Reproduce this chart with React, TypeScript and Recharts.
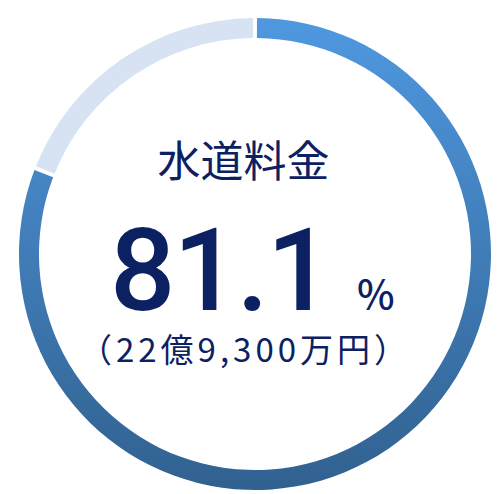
import { PieChart, Pie, Cell } from 'recharts';

const categories = ['水道料金', 'その他'];
const shares = [81.1, 18.9];
const title = '水道料金';
const valueLabel = '81.1';
const unitLabel = '%';
const amountLabel = '（22億9,300万円）';

const data = categories.map((name, i) => ({ name, value: shares[i] }));

const navy = '#0c2162';
const font = '"Noto Sans CJK JP", "Noto Sans", sans-serif';

export default function App() {
  return (
    <div style={{ position: 'absolute', left: 0, top: 0, width: 500, height: 494, background: '#fff' }}>
      <PieChart width={500} height={494}>
        <defs>
          <linearGradient id="ringBlue" x1="0" y1="0" x2="0" y2="1">
            <stop offset="0%" stopColor="#4f98e0" />
            <stop offset="100%" stopColor="#31618f" />
          </linearGradient>
        </defs>
        <Pie
          data={data}
          dataKey="value"
          cx={250}
          cy={249}
          innerRadius={216}
          outerRadius={236}
          startAngle={89.5}
          endAngle={-270.5}
          paddingAngle={1}
          stroke="none"
          isAnimationActive={false}
        >
          <Cell fill="url(#ringBlue)" />
          <Cell fill="#d7e2f3" />
        </Pie>
      </PieChart>
      <div
        style={{
          position: 'absolute',
          left: 0,
          width: 487,
          top: 133,
          textAlign: 'center',
          fontFamily: font,
          fontSize: 43,
          lineHeight: '50px',
          color: navy,
        }}
      >
        {title}
      </div>
      <div
        style={{
          position: 'absolute',
          left: 110,
          top: 229,
          fontFamily: 'Roboto, sans-serif',
          fontSize: 115,
          fontWeight: 500,
          lineHeight: '84px',
          height: 84,
          letterSpacing: -2,
          color: navy,
          whiteSpace: 'nowrap',
        }}
      >
        {valueLabel}
      </div>
      <div
        style={{
          position: 'absolute',
          left: 357,
          top: 270,
          fontFamily: font,
          fontSize: 40,
          fontWeight: 500,
          lineHeight: '44px',
          color: navy,
        }}
      >
        {unitLabel}
      </div>
      <div
        style={{
          position: 'absolute',
          left: 0,
          width: 490,
          top: 330,
          textAlign: 'center',
          fontFamily: font,
          fontSize: 33,
          lineHeight: '36px',
          letterSpacing: 4,
          color: navy,
          whiteSpace: 'nowrap',
        }}
      >
        {amountLabel}
      </div>
    </div>
  );
}
